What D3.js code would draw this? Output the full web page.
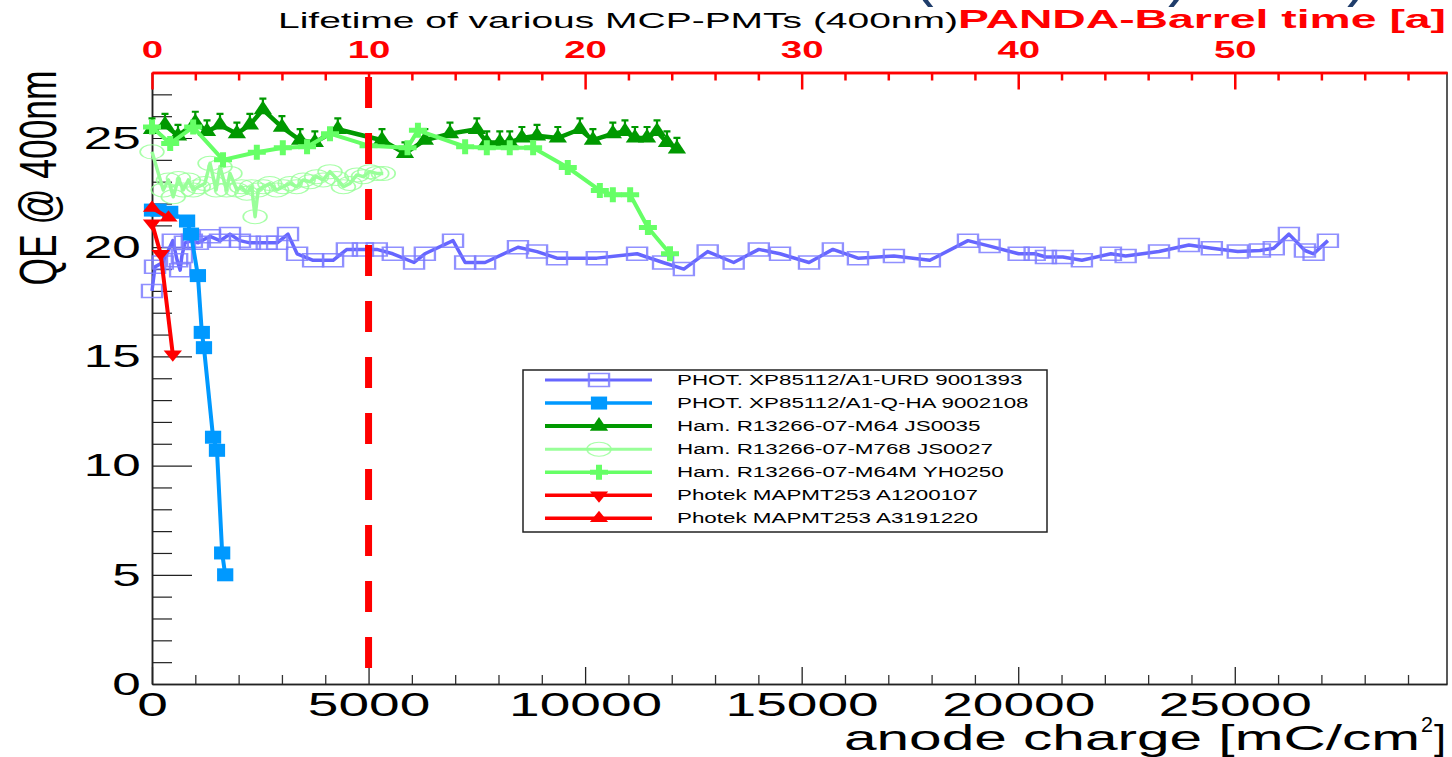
<!DOCTYPE html>
<html>
<head>
<meta charset="utf-8">
<script src="https://cdn.jsdelivr.net/npm/d3@7"></script>
<style>
  body { margin: 0; background: #fff; }
  text { font-family: "Liberation Sans", Arial, Helvetica, sans-serif; }
</style>
</head>
<body>
<div id="chart"></div>
<script>
// anode charge [mC/cm2] and QE [%] per tube
var urdX = [0, 70, 250, 480, 580, 650, 690, 760, 920, 1060, 1340, 1570, 1800, 2030, 2260, 2650, 2890, 3140, 3350, 3720,
  4180, 4500, 4870, 5190, 5560, 6050, 6300, 6950, 7230, 7690, 8450, 8890, 9350, 10270, 11200, 11800, 12280, 12830, 13430, 14010,
  14500, 15170, 15720, 16300, 17130, 17960, 18840, 19340, 20010, 20380, 20640, 21030, 21470, 22140, 22480, 23250, 23940, 24470, 25070, 25580,
  25900, 26250, 26620, 26820, 27150];
var urdY = [18.0, 19.1, 19.3, 20.3, 19.4, 18.95, 19.6, 20.2, 20.3, 20.2, 20.5, 20.3, 20.6, 20.3, 20.2, 20.2, 20.2, 20.6, 19.7, 19.4,
  19.4, 19.9, 19.9, 19.9, 19.7, 19.3, 19.7, 20.3, 19.3, 19.3, 20.0, 19.8, 19.5, 19.5, 19.7, 19.3, 19.0, 19.8, 19.3, 19.9,
  19.7, 19.3, 19.9, 19.5, 19.6, 19.4, 20.3, 20.05, 19.7, 19.7, 19.55, 19.55, 19.4, 19.7, 19.6, 19.8, 20.1, 19.95, 19.8, 19.85,
  19.95, 20.6, 19.85, 19.7, 20.3];

var qhaX = [0, 150, 420, 810, 900, 1060, 1150, 1200, 1410, 1500, 1620, 1690];
var qhaY = [21.7, 21.7, 21.6, 21.2, 20.6, 18.7, 16.1, 15.4, 11.3, 10.7, 6.0, 5.0];

var m64X = [0, 300, 600, 1000, 1270, 1570, 1960, 2260, 2560, 3000, 3420, 3760, 4290, 5310, 5840, 6300, 6880, 7500, 7730, 8030,
  8260, 8540, 8890, 9370, 9880, 10180, 10640, 10920, 11150, 11430, 11660, 11890, 12120];
var m64Y = [25.4, 25.6, 25.1, 25.7, 25.3, 25.6, 25.2, 25.6, 26.3, 25.5, 24.9, 24.8, 25.4, 24.9, 24.3, 24.9, 25.2, 25.4, 24.8, 24.8,
  24.8, 25.0, 25.1, 25.0, 25.4, 24.9, 25.2, 25.3, 25.0, 25.0, 25.3, 24.8, 24.5];

var m768X = [0, 260, 380, 490, 610, 720, 840, 950, 1070, 1220, 1340, 1480, 1570, 1720, 1800, 1960, 2070, 2190, 2300, 2380,
  2450, 2570, 2720, 2880, 3030, 3190, 3340, 3490, 3650, 3800, 3950, 4110, 4260, 4420, 4570, 4730, 4880, 5030, 5190, 5340];
var m768Y = [24.37, 22.62, 23.08, 22.31, 23.15, 22.62, 23.08, 22.62, 22.77, 22.92, 23.84, 22.62, 23.69, 22.62, 23.38, 22.62, 22.77, 22.47, 22.77, 21.4,
  22.62, 22.77, 22.92, 22.62, 22.77, 22.92, 22.77, 23.08, 23.0, 23.23, 23.08, 23.46, 23.15, 22.77, 22.92, 23.31, 23.23, 23.46, 23.38, 23.38];

var m64mX = [0, 420, 950, 1640, 2420, 3020, 3580, 4110, 5000, 5900, 6140, 7230, 7730, 8260, 8800, 9600, 10340, 10640, 11040, 11450, 11960];
var m64mY = [25.5, 24.75, 25.5, 24.0, 24.35, 24.55, 24.6, 25.2, 24.65, 24.55, 25.35, 24.6, 24.55, 24.55, 24.55, 23.65, 22.6, 22.4, 22.4, 20.9, 19.7];

var a12X = [0, 200, 480];
var a12Y = [21.1, 19.7, 15.1];

var a31X = [0, 380];
var a31Y = [21.8, 21.35];

var bottomTicks = [0, 5000, 10000, 15000, 20000, 25000];
var leftTicks = [0, 5, 10, 15, 20, 25];
var topTicks = [0, 10, 20, 30, 40, 50];
var barrelYears = 10;   // 10 years of PANDA Barrel = 5000 mC/cm2

var W = 1452, H = 757;
var plot = { left: 152, right: 1447, top: 72.5, bottom: 684 };
var font = '"Liberation Sans", Arial, Helvetica, sans-serif';

var svg = d3.select("#chart")
  .append("svg")
  .attr("width", W)
  .attr("height", H);

svg.append("rect").attr("width", W).attr("height", H).attr("fill", "#fff");

var x = d3.scaleLinear().domain([0, 29900]).range([plot.left, plot.right]);
var y = d3.scaleLinear().domain([0, 28]).range([plot.bottom, plot.top]);
var xTop = d3.scaleLinear().domain([0, 29900 / 500]).range([plot.left, plot.right]);

function minors(step, max, every) {
  return d3.range(0, max + 0.001, step).filter(function(v) { return Math.round(v / step) % every != 0; });
}

function styleAxis(g, color, lineW, tickW, size, weight, sx) {
  g.select(".domain").attr("stroke", color).attr("stroke-width", lineW);
  g.selectAll(".tick line").attr("stroke", color).attr("stroke-width", tickW);
  g.attr("font-family", font).attr("font-size", size).attr("font-weight", weight);
  g.selectAll(".tick text").attr("fill", color).attr("transform", "scale(" + sx + ",1)");
}

// bottom axis
var gxMinor = svg.append("g").attr("transform", "translate(0," + plot.bottom + ")")
  .call(d3.axisBottom(x).tickValues(minors(1000, 29000, 5)).tickSize(-9).tickSizeOuter(0).tickFormat(""));
styleAxis(gxMinor, "#333", 1.5, 1.3, 34, "normal", 1.62);
var gx = svg.append("g").attr("transform", "translate(0," + plot.bottom + ")")
  .call(d3.axisBottom(x).tickValues(bottomTicks).tickSize(-17).tickSizeOuter(0).tickPadding(8).tickFormat(d3.format("d")));
styleAxis(gx, "#222", 1.5, 1.3, 34, "normal", 1.62);
gx.selectAll(".tick text").attr("fill", "#000");

// left axis
var gyMinor = svg.append("g").attr("transform", "translate(" + plot.left + ",0)")
  .call(d3.axisLeft(y).tickValues(minors(1, 27, 5)).tickSize(-20).tickSizeOuter(0).tickFormat(""));
styleAxis(gyMinor, "#222", 1.5, 1.2, 32, "normal", 1.6);
var gy = svg.append("g").attr("transform", "translate(" + plot.left + ",0)")
  .call(d3.axisLeft(y).tickValues(leftTicks).tickSize(-40).tickSizeOuter(0).tickPadding(7));
styleAxis(gy, "#222", 1.5, 1.2, 32, "normal", 1.6);
gy.selectAll(".tick text").attr("fill", "#000");

// right frame
svg.append("line")
  .attr("x1", plot.right).attr("x2", plot.right)
  .attr("y1", plot.top).attr("y2", plot.bottom)
  .attr("stroke", "#222").attr("stroke-width", 1.5);

// top axis: PANDA-Barrel time in years
var gtMinor = svg.append("g").attr("transform", "translate(0," + plot.top + ")")
  .call(d3.axisTop(xTop).tickValues(minors(2, 58, 5)).tickSize(-8).tickSizeOuter(0).tickFormat(""));
styleAxis(gtMinor, "#ff0000", 2.5, 2.5, 24, "bold", 1.6);
var gt = svg.append("g").attr("transform", "translate(0," + plot.top + ")")
  .call(d3.axisTop(xTop).tickValues(topTicks).tickSize(-17).tickSizeOuter(0).tickPadding(15));
styleAxis(gt, "#ff0000", 2.5, 2.5, 24, "bold", 1.6);

// marker shapes
var markers = {
  openSquare: { type: d3.symbolSquare, size: 169, sx: 1.55, sy: 1, filled: false, sw: 1.5 },
  square: { type: d3.symbolSquare, size: 169, sx: 1.25, sy: 1, filled: true },
  triUp: { type: d3.symbolTriangle, size: 110, sx: 1.15, sy: 1, filled: true },
  openCircle: { type: d3.symbolCircle, size: 154, sx: 1.7, sy: 1, filled: false, sw: 1 },
  cross: { type: d3.symbolCross, size: 125, sx: 1.2, sy: 1, filled: true },
  redDown: { type: d3.symbolTriangle, size: 72, sx: 1.42, sy: -1, filled: true },
  redUp: { type: d3.symbolTriangle, size: 72, sx: 1.42, sy: 1, filled: true }
};

var series = [
  { name: "PHOT. XP85112/A1-URD 9001393", xs: urdX, ys: urdY, color: "#6666ff", mcolor: "#7d7dff", lw: 3.5, marker: "openSquare" },
  { name: "PHOT. XP85112/A1-Q-HA 9002108", xs: qhaX, ys: qhaY, color: "#0099ff", mcolor: "#0099ff", lw: 4, marker: "square" },
  { name: "Ham. R13266-07-M64 JS0035", xs: m64X, ys: m64Y, color: "#009900", mcolor: "#009900", lw: 4.5, marker: "triUp", caps: true },
  { name: "Ham. R13266-07-M768 JS0027", xs: m768X, ys: m768Y, color: "#99ff99", mcolor: "#99ff99", lw: 3.5, marker: "openCircle" },
  { name: "Ham. R13266-07-M64M YH0250", xs: m64mX, ys: m64mY, color: "#66ff66", mcolor: "#66ff66", lw: 4, marker: "cross" },
  { name: "Photek MAPMT253 A1200107", xs: a12X, ys: a12Y, color: "#ff0000", mcolor: "#ff0000", lw: 4, marker: "redDown" },
  { name: "Photek MAPMT253 A3191220", xs: a31X, ys: a31Y, color: "#ff0000", mcolor: "#ff0000", lw: 4, marker: "redUp" }
];

function addMarker(sel, s) {
  var m = markers[s.marker];
  sel.attr("d", d3.symbol(m.type, m.size))
    .attr("fill", m.filled ? s.mcolor : "none")
    .attr("stroke", m.filled ? "none" : s.mcolor)
    .attr("stroke-width", m.sw || 0)
    .attr("stroke-opacity", 0.85);
  return m;
}

var line = d3.line()
  .x(function(d) { return x(d[0]); })
  .y(function(d) { return y(d[1]); });

series.forEach(function(s) {
  var pts = s.xs.map(function(v, i) { return [v, s.ys[i]]; });
  var g = svg.append("g");
  g.append("path")
    .datum(pts)
    .attr("d", line)
    .attr("fill", "none")
    .attr("stroke", s.color)
    .attr("stroke-width", s.lw)
    .attr("stroke-linejoin", "round");

  if (s.caps) {
    g.selectAll(null)
      .data(pts)
      .join("path")
      .attr("d", "M-3.5,-11H3.5M0,-11V-7")
      .attr("transform", function(d) { return "translate(" + x(d[0]) + "," + y(d[1]) + ")"; })
      .attr("stroke", s.color)
      .attr("stroke-width", 2.2)
      .attr("fill", "none");
  }

  var m = markers[s.marker];
  g.selectAll(null)
    .data(pts)
    .join("path")
    .call(addMarker, s)
    .attr("transform", function(d) {
      return "translate(" + x(d[0]) + "," + y(d[1]) + ") scale(" + m.sx + "," + m.sy + ")";
    });
});

// 10 years of PANDA-Barrel operation
svg.append("line")
  .attr("x1", xTop(barrelYears)).attr("x2", xTop(barrelYears))
  .attr("y1", 77).attr("y2", plot.bottom)
  .attr("stroke", "#ff0000")
  .attr("stroke-width", 7)
  .attr("stroke-dasharray", "31,25");

// legend
var leg = svg.append("g");
leg.append("rect")
  .attr("x", 523).attr("y", 370)
  .attr("width", 524).attr("height", 162)
  .attr("fill", "#fff")
  .attr("stroke", "#222")
  .attr("stroke-width", 1.5);

series.forEach(function(s, i) {
  var ly = 380 + i * 23.05;
  leg.append("line")
    .attr("x1", 545).attr("x2", 652)
    .attr("y1", ly).attr("y2", ly)
    .attr("stroke", s.color)
    .attr("stroke-width", s.lw - 0.5);
  var m = markers[s.marker];
  leg.append("path")
    .call(addMarker, s)
    .attr("transform", "translate(599," + ly + ") scale(" + m.sx + "," + m.sy + ")");
  leg.append("text")
    .attr("transform", "translate(677," + (ly + 5) + ") scale(1.6,1)")
    .attr("font-size", 14)
    .attr("fill", "#000")
    .text(s.name);
});

// titles
svg.append("text")
  .attr("x", 278).attr("y", 28)
  .attr("font-size", 22)
  .attr("textLength", 680).attr("lengthAdjust", "spacingAndGlyphs")
  .attr("fill", "#000")
  .text("Lifetime of various MCP-PMTs (400nm)");

svg.append("text")
  .attr("x", 958).attr("y", 28)
  .attr("font-size", 25).attr("font-weight", "bold")
  .attr("textLength", 488).attr("lengthAdjust", "spacingAndGlyphs")
  .attr("fill", "#ff0000")
  .text("PANDA-Barrel time [a]");

// cut-off glyphs from the slide above
[["(", 913], [")", 1168], [")", 1347]].forEach(function(p) {
  svg.append("text")
    .attr("x", p[1]).attr("y", -6)
    .attr("font-size", 62)
    .attr("fill", "#1f3d6b")
    .text(p[0]);
});

svg.append("text")
  .attr("x", 844).attr("y", 750)
  .attr("font-size", 35)
  .attr("textLength", 576).attr("lengthAdjust", "spacingAndGlyphs")
  .attr("fill", "#000")
  .text("anode charge [mC/cm");
svg.append("text")
  .attr("x", 1421).attr("y", 732)
  .attr("font-size", 22)
  .attr("textLength", 12).attr("lengthAdjust", "spacingAndGlyphs")
  .attr("fill", "#000")
  .text("2");
svg.append("text")
  .attr("x", 1434).attr("y", 750)
  .attr("font-size", 35)
  .attr("textLength", 12).attr("lengthAdjust", "spacingAndGlyphs")
  .attr("fill", "#000")
  .text("]");

svg.append("text")
  .attr("transform", "translate(56,178) scale(1.5,1) rotate(-90)")
  .attr("text-anchor", "middle")
  .attr("font-size", 35)
  .attr("textLength", 215).attr("lengthAdjust", "spacingAndGlyphs")
  .attr("fill", "#000")
  .text("QE @ 400nm");
</script>
</body>
</html>
